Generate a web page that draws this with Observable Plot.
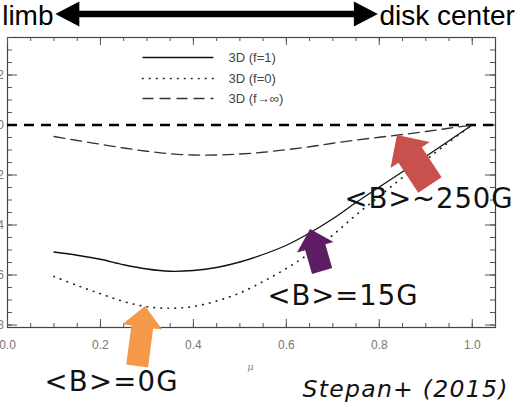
<!DOCTYPE html>
<html><head><meta charset="utf-8">
<script src="https://cdn.jsdelivr.net/npm/d3@7"></script>
<script src="https://cdn.jsdelivr.net/npm/@observablehq/plot@0.6"></script>
<style>body{margin:0;background:#fff} #chart{width:518px;height:410px}</style>
</head><body><div id="chart"></div>
<script>
// ---- data ----
const mu    = [0.10, 0.15, 0.20, 0.25, 0.30, 0.35, 0.40, 0.45, 0.50, 0.55, 0.60, 0.65, 0.70, 0.75, 0.80, 0.85, 0.90, 0.95, 1.00];
const f1    = [-0.508,-0.521,-0.537,-0.559,-0.576,-0.585,-0.582,-0.570,-0.548,-0.518,-0.481,-0.432,-0.375,-0.310,-0.248,-0.187,-0.126,-0.063,0.000];
const f0    = [-0.606,-0.642,-0.675,-0.706,-0.727,-0.733,-0.726,-0.704,-0.672,-0.626,-0.574,-0.513,-0.440,-0.360,-0.285,-0.210,-0.140,-0.068,0.000];
const fInf  = [-0.046,-0.062,-0.077,-0.092,-0.105,-0.115,-0.120,-0.120,-0.116,-0.109,-0.099,-0.087,-0.073,-0.060,-0.049,-0.038,-0.026,-0.013,0.000];
const seriesNames = ["3D (f=1)", "3D (f=0)", "3D (f\u2192\u221e)"];

const xMajor = [0, 0.2, 0.4, 0.6, 0.8, 1.0];
const xMinor = d3.range(0, 21.5).map(i => i * 0.05);
const yMajor = [-0.8, -0.6, -0.4, -0.2, 0.0, 0.2];
const yMinor = d3.range(-16, 7.5).map(i => i * 0.05);
const xDomain = [0, 1.05];
const yDomain = [-0.81, 0.35];

// annotations (data coordinates)
const legendY = [0.27, 0.186, 0.106];
const legendX = [0.2905, 0.443, 0.4755];
const notes = [
  {text: "<B>~250G", x: 0.725,  y: -0.296, kind: "big", width: 168},
  {text: "<B>=15G",  x: 0.5593, y: -0.686, kind: "big", width: 150},
  {text: "<B>=0G",   x: 0.0796, y: -1.030, kind: "big", width: 133},
  {text: "Stepan+ (2015)", x: 0.6347, y: -1.058, kind: "cite", width: 205},
  {text: "\u03bc", x: 0.5228, y: -0.968, kind: "axis", width: 0}
];
const headerLeft  = [{text: "limb", x: 0.099, y: 0.434}];
const headerRight = [{text: "disk center", x: 0.8003, y: 0.434}];
const arrows = [
  {x1: 0.280, y1: -0.966, x2: 0.297, y2: -0.726, kind: "orange"},
  {x1: 0.678, y1: -0.586, x2: 0.652, y2: -0.418, kind: "purple"},
  {x1: 0.910, y1: -0.242, x2: 0.839, y2: -0.042, kind: "red"},
  {x1: 0.104, y1: 0.442, x2: 0.798, y2: 0.442, kind: "top", double: true}
];

// ---- styles ----
const W = 518, H = 410, mL = 7, mR = 23, mT = 37, mB = 83;
const plotW = W - mL - mR, plotH = H - mT - mB;
const lineStyle = [
  {stroke: "#111", strokeWidth: 1.3},
  {stroke: "#222", strokeWidth: 1.7, strokeDasharray: "0.5,6.5", strokeLinecap: "round"},
  {stroke: "#333", strokeWidth: 1.3, strokeDasharray: "11,6"}
];
const arrowStyle = {
  orange: {color: "#F4994A", shaft: 22, headW: 40, headL: 21},
  purple: {color: "#5E1D62", shaft: 21, headW: 38, headL: 19},
  red:    {color: "#C8514D", shaft: 28, headW: 47, headL: 24},
  top:    {color: "#000",    shaft: 6.5, headW: 25, headL: 24}
};
const noteStyle = {
  big:  {fontSize: 27.5, fontFamily: "DejaVu Sans", fontStyle: "normal", fill: "#111"},
  cite: {fontSize: 23.5, fontFamily: "DejaVu Sans", fontStyle: "oblique", fill: "#111"},
  axis: {fontSize: 10, fontFamily: "DejaVu Serif", fontStyle: "italic", fill: "#888"}
};

const rows = mu.map((m, i) => ({mu: m, v: [f1[i], f0[i], fInf[i]]}));

function blockArrowMark(list) {
  return (index, scales) => {
    const g = d3.create("svg:g");
    for (const a of list) {
      const st = arrowStyle[a.kind];
      const x1 = scales.x(a.x1), y1 = scales.y(a.y1), x2 = scales.x(a.x2), y2 = scales.y(a.y2);
      const dx = x2 - x1, dy = y2 - y1, L = Math.hypot(dx, dy);
      const ux = dx / L, uy = dy / L, nx = -uy, ny = ux;
      const s = st.shaft / 2, h = st.headW / 2, hl = st.headL;
      const P = (t, w) => [x1 + ux * t + nx * w, y1 + uy * t + ny * w];
      const pts = a.double
        ? [P(0,0), P(hl,h), P(hl,s), P(L-hl,s), P(L-hl,h), P(L,0), P(L-hl,-h), P(L-hl,-s), P(hl,-s), P(hl,-h)]
        : [P(0,s), P(L-hl,s), P(L-hl,h), P(L,0), P(L-hl,-h), P(L-hl,-s), P(0,-s)];
      g.append("path").attr("d", "M" + pts.map(p => p.map(v => v.toFixed(2)).join(",")).join("L") + "Z").attr("fill", st.color);
    }
    return g.node();
  };
}

const tickColor = "#555";
const headerFont = {fontSize: 28, fontFamily: "Liberation Sans", fill: "#000"};
const marks = [
  Plot.frame({stroke: "#444", strokeWidth: 1.2}),
  // ticks: bottom / top
  Plot.ruleX(xMinor, {x: d => d, insetTop: plotH - 4, stroke: tickColor}),
  Plot.ruleX(xMajor, {x: d => d, insetTop: plotH - 8, stroke: tickColor}),
  Plot.ruleX(xMinor, {x: d => d, insetBottom: plotH - 4, stroke: tickColor}),
  Plot.ruleX(xMajor, {x: d => d, insetBottom: plotH - 8, stroke: tickColor}),
  // ticks: left / right
  Plot.ruleY(yMinor, {y: d => d, insetRight: plotW - 5, stroke: tickColor}),
  Plot.ruleY(yMajor, {y: d => d, insetRight: plotW - 10, stroke: tickColor}),
  Plot.ruleY(yMinor, {y: d => d, insetLeft: plotW - 5, stroke: tickColor}),
  Plot.ruleY(yMajor, {y: d => d, insetLeft: plotW - 10, stroke: tickColor}),
  // tick labels
  Plot.text(xMajor, {x: d => d, frameAnchor: "bottom", dy: 21, text: d => d.toFixed(1), fontSize: 12, fontFamily: "Liberation Sans", fill: "#777"}),
  Plot.text(yMajor, {y: d => d, frameAnchor: "left", dx: -3.5, textAnchor: "end", text: d => d.toFixed(1), fontSize: 12, fontFamily: "Liberation Sans", fill: "#777"}),
  // zero line
  Plot.ruleY([0], {stroke: "#000", strokeWidth: 2.6, strokeDasharray: "10,7"}),
  // curves
  ...seriesNames.map((name, k) => Plot.line(rows, {x: "mu", y: d => d.v[k], curve: "catmull-rom", ...lineStyle[k]})),
  // legend
  ...seriesNames.map((name, k) => Plot.link([name], {x1: legendX[0], x2: legendX[1], y1: legendY[k], y2: legendY[k], ...lineStyle[k]})),
  Plot.text(seriesNames, {x: legendX[2], y: (d, i) => legendY[i], text: d => d, textAnchor: "start", fontSize: 13, fontFamily: "Liberation Sans", fill: "#444"}),
  // block arrows
  blockArrowMark(arrows),
  // header
  Plot.text(headerLeft,  {x: "x", y: "y", text: "text", textAnchor: "end", ...headerFont}),
  Plot.text(headerRight, {x: "x", y: "y", text: "text", textAnchor: "start", ...headerFont}),
  // notes
  ...Object.keys(noteStyle).map(kind => Plot.text(notes.filter(d => d.kind === kind), {
    x: "x", y: "y", text: "text", textAnchor: kind === "axis" ? "middle" : "start", ...noteStyle[kind]}))
];

const chart = Plot.plot({
  width: W, height: H,
  marginLeft: mL, marginRight: mR, marginTop: mT, marginBottom: mB,
  x: {domain: xDomain, axis: null},
  y: {domain: yDomain, axis: null},
  style: {background: "#fff", overflow: "hidden"},
  marks
});
document.getElementById("chart").appendChild(chart);
// widen the annotation texts to the widths seen in the reference (letter spacing)
const targetWidth = new Map(notes.filter(d => d.width > 0).map(d => [d.text, d.width]));
d3.select(chart).selectAll("text").each(function() {
  const t = this.textContent;
  if (!targetWidth.has(t)) return;
  const natural = this.getComputedTextLength();
  const n = [...t].length;
  const ls = (targetWidth.get(t) - natural) / Math.max(1, n - 1);
  this.style.letterSpacing = ls.toFixed(2) + "px";
});
</script>
</body></html>
